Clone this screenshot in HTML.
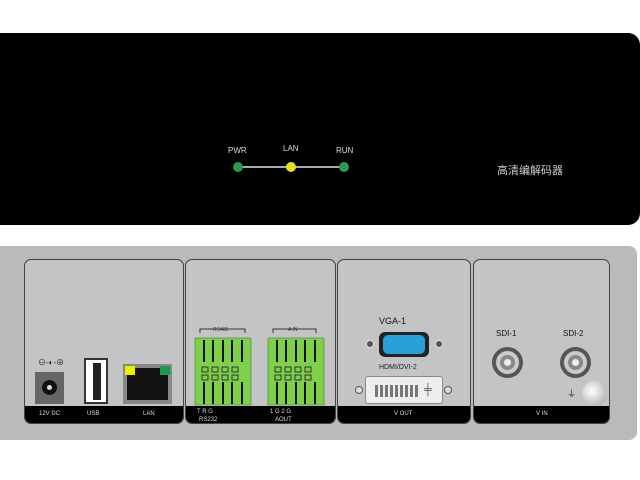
<!DOCTYPE html>
<html><head><meta charset="utf-8"><style>
*{margin:0;padding:0;box-sizing:border-box}
body{width:640px;height:480px;background:#fff;position:relative;overflow:hidden;font-family:"Liberation Sans","Noto Sans CJK SC",sans-serif}
.a{position:absolute}
.pan{position:absolute;top:259px;height:165px;background:#c3c4c6;border:1px solid #444;border-radius:7px;overflow:hidden}
.strip{position:absolute;left:0;right:0;bottom:0;height:17px;background:#000;color:#ddd;font-size:6px;text-align:center}
</style></head><body>
<div class="a" style="left:0;top:33px;width:640px;height:192px;background:#000;border-radius:0 12px 12px 0"></div>
<div class="a" style="left:228px;top:146px;color:#ddd;font-size:8px">PWR</div>
<div class="a" style="left:283px;top:144px;color:#ddd;font-size:8px">LAN</div>
<div class="a" style="left:336px;top:146px;color:#ddd;font-size:8px">RUN</div>
<div class="a" style="left:238px;top:166px;width:106px;height:2px;background:#aaa"></div>
<div class="a" style="left:233px;top:162px;width:10px;height:10px;border-radius:50%;background:#2a9a50"></div>
<div class="a" style="left:286px;top:162px;width:10px;height:10px;border-radius:50%;background:#e6e020"></div>
<div class="a" style="left:339px;top:162px;width:10px;height:10px;border-radius:50%;background:#2a9a50"></div>
<div class="a" style="left:497px;top:162px;color:#ccc;font-size:11px">高清编解码器</div>

<div class="a" style="left:0;top:246px;width:637px;height:194px;background:#b9babc;border-radius:0 8px 8px 0"></div>

<div class="pan" style="left:24px;width:160px">
 <div class="strip"><span class="a" style="left:14px;top:5px">12V DC</span><span class="a" style="left:62px;top:5px">USB</span><span class="a" style="left:118px;top:5px">LAN</span></div>
</div>
<div class="pan" style="left:185px;width:151px"><div class="strip"></div></div>
<div class="pan" style="left:337px;width:134px"><div class="strip"><span class="a" style="left:56px;top:5px">V OUT</span></div></div>
<div class="pan" style="left:473px;width:137px"><div class="strip"><span class="a" style="left:62px;top:5px">V IN</span></div></div>

<div class="a" style="left:38px;top:357px;font-size:8px;color:#222">⊖-◐-⊕</div>
<div class="a" style="left:35px;top:372px;width:29px;height:32px;background:#666"><div class="a" style="left:7px;top:8px;width:15px;height:15px;border-radius:50%;background:#111"></div><div class="a" style="left:12px;top:13px;width:5px;height:5px;border-radius:50%;background:#ddd"></div></div>
<div class="a" style="left:84px;top:358px;width:24px;height:46px;background:#fff;border:2px solid #333"><div class="a" style="left:7px;top:3px;width:8px;height:37px;background:#222"></div></div>
<div class="a" style="left:123px;top:364px;width:49px;height:40px;background:#888"><div class="a" style="left:4px;top:4px;width:41px;height:32px;background:#111"></div><div class="a" style="left:2px;top:2px;width:10px;height:9px;background:#ee0"></div><div class="a" style="left:37px;top:2px;width:10px;height:9px;background:#1a9a4a"></div></div>

<svg class="a" style="left:185px;top:320px" width="150" height="105">
 <g fill="#7ed04a" stroke="#3a6a20" stroke-width="0.5">
  <rect x="10" y="18" width="56" height="67"/><rect x="83" y="18" width="56" height="67"/>
 </g>
 <g stroke="#111" stroke-width="2">
  <path d="M19 20v22M28 20v22M38 20v22M47 20v22M57 20v22M19 62v22M28 62v22M38 62v22M47 62v22M57 62v22"/>
  <path d="M92 20v22M101 20v22M111 20v22M120 20v22M130 20v22M92 62v22M101 62v22M111 62v22M120 62v22M130 62v22"/>
 </g>
 <g fill="none" stroke="#333" stroke-width="1">
  <rect x="17" y="47" width="6" height="5"/><rect x="27" y="47" width="6" height="5"/><rect x="37" y="47" width="6" height="5"/><rect x="47" y="47" width="6" height="5"/>
  <rect x="17" y="55" width="6" height="5"/><rect x="27" y="55" width="6" height="5"/><rect x="37" y="55" width="6" height="5"/><rect x="47" y="55" width="6" height="5"/>
  <rect x="90" y="47" width="6" height="5"/><rect x="100" y="47" width="6" height="5"/><rect x="110" y="47" width="6" height="5"/><rect x="120" y="47" width="6" height="5"/>
  <rect x="90" y="55" width="6" height="5"/><rect x="100" y="55" width="6" height="5"/><rect x="110" y="55" width="6" height="5"/><rect x="120" y="55" width="6" height="5"/>
  <path d="M15 13v-4h45v4M88 13v-4h43v4"/>
 </g>
 <g font-size="5" fill="#333"><text x="28" y="11">RS485</text><text x="103" y="11">A IN</text></g>
 <g font-size="6" fill="#ddd"><text x="12" y="93">T  R  G</text><text x="85" y="93">1  G  2  G</text><text x="14" y="101">RS232</text><text x="90" y="101">AOUT</text></g>
</svg>

<div class="a" style="left:379px;top:316px;font-size:9px;color:#111">VGA-1</div>
<div class="a" style="left:366px;top:340px;width:8px;height:8px;border-radius:50%;background:#555;border:1px solid #ddd"></div>
<div class="a" style="left:435px;top:340px;width:8px;height:8px;border-radius:50%;background:#555;border:1px solid #ddd"></div>
<div class="a" style="left:379px;top:332px;width:50px;height:25px;background:#222;border-radius:6px"><div class="a" style="left:4px;top:3px;width:42px;height:19px;background:#2a9fd8;border-radius:5px"></div></div>
<div class="a" style="left:379px;top:364px;font-size:7px;color:#222">HDMI/DVI-2</div>
<div class="a" style="left:355px;top:386px;width:8px;height:8px;border-radius:50%;background:#ddd;border:1px solid #555"></div>
<div class="a" style="left:444px;top:386px;width:8px;height:8px;border-radius:50%;background:#ddd;border:1px solid #555"></div>
<div class="a" style="left:365px;top:376px;width:78px;height:28px;background:#eee;border:1px solid #888;border-radius:3px"><div class="a" style="left:9px;top:8px;width:44px;height:12px;background:repeating-linear-gradient(90deg,#777 0 3px,#eee 3px 5px)"></div><div class="a" style="left:58px;top:7px;font-size:11px;color:#555">╪</div></div>

<div class="a" style="left:496px;top:329px;font-size:8px;color:#111">SDI-1</div>
<div class="a" style="left:563px;top:329px;font-size:8px;color:#111">SDI-2</div>
<div class="a" style="left:492px;top:347px;width:31px;height:31px;border-radius:50%;background:radial-gradient(circle,#eee 0 3px,#888 4px 7px,#ccc 8px 11px,#555 12px)"></div>
<div class="a" style="left:560px;top:347px;width:31px;height:31px;border-radius:50%;background:radial-gradient(circle,#eee 0 3px,#888 4px 7px,#ccc 8px 11px,#555 12px)"></div>
<div class="a" style="left:567px;top:387px;font-size:9px;color:#222">⏚</div>
<div class="a" style="left:582px;top:381px;width:25px;height:25px;border-radius:50%;background:radial-gradient(circle at 40% 40%,#fff,#bbb 70%,#777)"></div>
</body></html>
